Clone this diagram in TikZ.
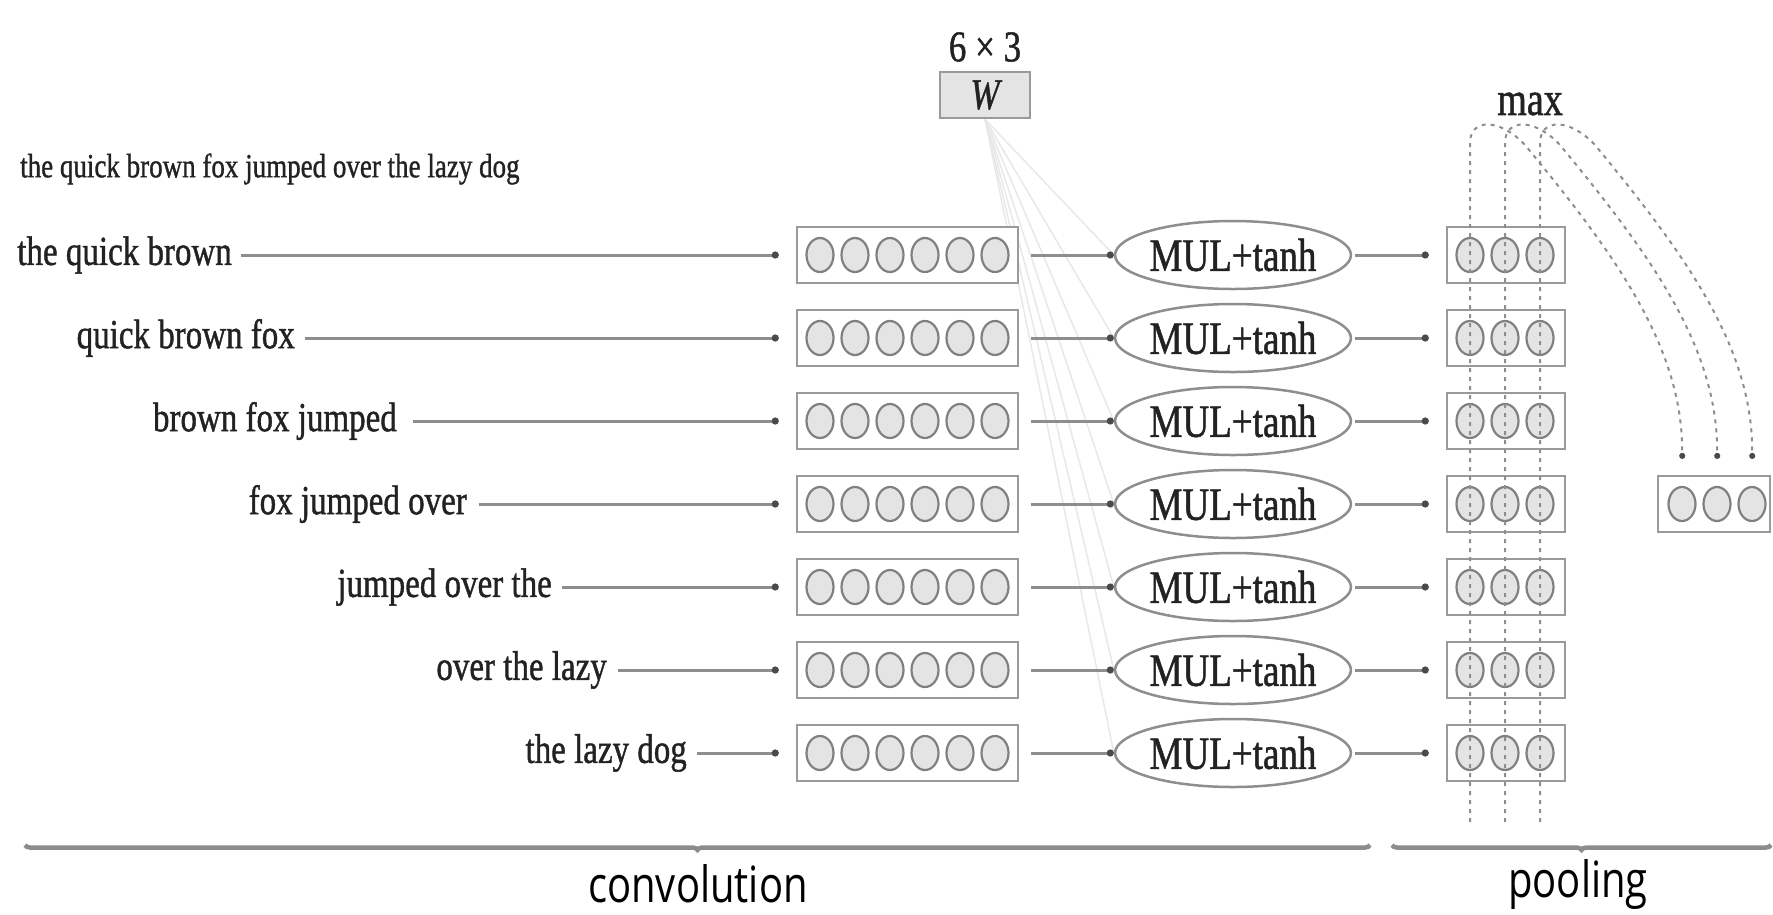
\documentclass[tikz,border=0pt]{standalone}
\usepackage{fontspec}
\setmainfont{Liberation Serif}[FakeBold=1.2]
\newfontfamily\labsans{Open Sans}
\usetikzlibrary{arrows.meta,shapes.geometric,decorations.pathreplacing}
\pgfdeclarelayer{bg}
\pgfsetlayers{bg,main}
\definecolor{lnc}{HTML}{8E8E8E}
\definecolor{bxc}{HTML}{9A9A9A}
\definecolor{cfc}{HTML}{E4E4E4}
\definecolor{txc}{HTML}{222222}
\definecolor{fanc}{HTML}{E8E8E8}
\definecolor{dotc}{HTML}{4A4A4A}
\newcommand\tallt[1]{\scalebox{1}[1.25]{#1}}
\begin{document}
\begin{tikzpicture}[x=1pt,y=-1pt,
  every node/.style={text=txc},
  lbl/.style={inner sep=0pt, font=\fontsize{33}{36}\selectfont},
  arr/.style={draw=lnc, line width=3pt, -{Circle[length=7pt,width=7pt,fill=dotc,color=dotc]}},
  convbox/.style={draw=bxc, line width=2.5pt, fill=white, minimum width=221pt, minimum height=56pt, inner sep=0pt},
  poolbox/.style={convbox, minimum width=118pt},
  cell/.style={ellipse, draw=lnc!90!black, line width=2.2pt, fill=cfc, minimum width=27pt, minimum height=34pt, inner sep=0pt},
  mul/.style={ellipse, draw=lnc, line width=2.5pt, fill=white, minimum width=233pt, minimum height=68pt, inner sep=0pt, font=\fontsize{37}{40}\selectfont},
  wbox/.style={draw=bxc, line width=2.5pt, fill=cfc, minimum width=90pt, minimum height=46pt, inner sep=0pt, font=\fontsize{35}{38}\selectfont\itshape},
  fanl/.style={draw=fanc, line width=1.5pt},
  dsh/.style={draw=lnc, line width=2pt, dash pattern=on 4pt off 5pt},
  brc/.style={draw=gray!90, line width=4.5pt, decorate, decoration={brace, amplitude=5pt, mirror}},
  sec/.style={font=\labsans\fontsize{40}{44}\selectfont, text=black}
]
\useasboundingbox (0,0) rectangle (1773,914);

\node[inner sep=0pt, font=\fontsize{35}{38}\selectfont] (dim) at (985,47) {\tallt{6 × 3}};
\node[wbox] (W) at (985,95) {\tallt{W}};
\node[inner sep=0pt, font=\fontsize{38}{40}\selectfont] (max) at (1530,104) {\tallt{max}};
\node[lbl, font=\fontsize{27}{30}\selectfont, anchor=west] (hdr) at (20,169) {\tallt{the quick brown fox jumped over the lazy dog}};

\foreach \i/\txt/\xr/\g in {1/the quick brown/232/9,2/quick brown fox/295/10,3/brown fox jumped/397/16,4/fox jumped over/467/12,5/jumped over the/552/10,6/over the lazy/607/11,7/the lazy dog/687/10} {
  \pgfmathsetmacro\yy{255+83*(\i-1)}
  \node[lbl, anchor=east] (l\i) at (\xr,\yy) {\tallt{\txt}};
  \node[convbox] (c\i) at (907.5,\yy) {};
  \foreach \k in {0,...,5} \node[cell] (c\i-\k) at (820+35*\k,\yy) {};
  \node[mul] (m\i) at (1233,\yy) {\tallt{MUL+tanh}};
  \node[poolbox] (p\i) at (1506,\yy) {};
  \foreach \k in {0,1,2} \node[cell] (p\i-\k) at (1470+35*\k,\yy) {};
  \draw[arr, shorten <=\g pt, shorten >=17pt] (l\i.east) -- (c\i.west);
  \draw[arr, shorten <=12pt] (c\i.east) -- (m\i.west);
  \draw[arr, shorten <=3pt, shorten >=17pt] (m\i.east) -- (p\i.west);
  \begin{pgfonlayer}{bg}
    \draw[fanl] (W.south) -- (m\i.west);
  \end{pgfonlayer}
}

\node[poolbox, minimum width=112pt] (ob) at (1714,504) {};
\foreach \k in {0,1,2} \node[cell] (o-\k) at (1682+35*\k,504) {};

\foreach \k in {0,1,2} {
  \pgfmathsetmacro\xx{1470+35*\k}
  \pgfmathsetmacro\xa{\xx+30}
  \pgfmathsetmacro\xb{\xx+55}
  \pgfmathsetmacro\xc{\xx+150}
  \pgfmathsetmacro\xd{\xx+213}
  \coordinate (db\k) at (\xx,822);
  \draw[dsh, -{Circle[length=6pt,width=6pt,fill=dotc,color=dotc]}, shorten >=27pt]
    (db\k) -- (\xx,143) .. controls (\xx,118) and (\xa,118) .. (\xb,145)
    .. controls (\xc,260) and (\xd,350) .. (o-\k.north);
}

\coordinate (cvL) at (25,845);
\coordinate (cvR) at (1370,845);
\coordinate (plL) at (1392,845);
\coordinate (plR) at (1771,845);
\draw[brc] (cvL) -- (cvR);
\draw[brc] (plL) -- (plR);
\node[sec, anchor=base] (conv) at (698,902) {\tallt{convolution}};
\node[sec, anchor=base] (pool) at (1578,897) {\tallt{pooling}};
\end{tikzpicture}
\end{document}
